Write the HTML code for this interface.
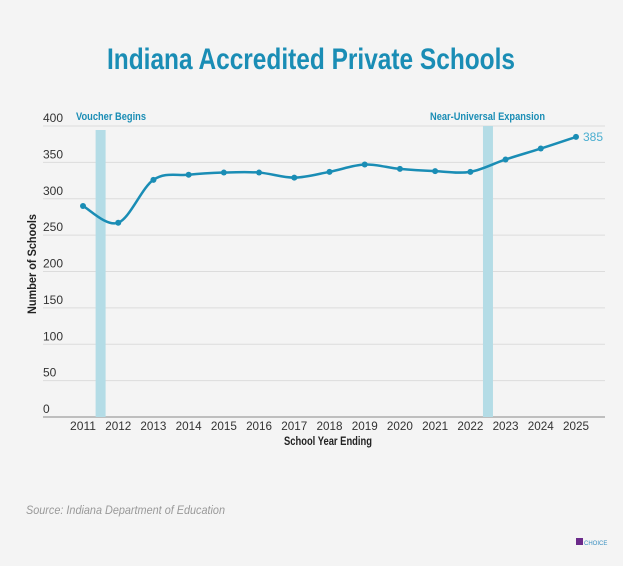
<!DOCTYPE html>
<html><head><meta charset="utf-8"><style>
body{margin:0;background:#f4f4f4;}
svg{display:block;font-family:"Liberation Sans",sans-serif;}
</style></head><body>
<svg width="623" height="566" viewBox="0 0 623 566">
<rect width="623" height="566" fill="#f4f4f4"/>
<text x="107" y="69" textLength="408" lengthAdjust="spacingAndGlyphs" font-size="30" font-weight="bold" fill="#1a8db5">Indiana Accredited Private Schools</text>
<g id="grid"></g>
<g id="bands"></g>
<g id="series"></g>
<text transform="rotate(-90)" x="-314" y="36" textLength="100" lengthAdjust="spacingAndGlyphs" font-size="12" font-weight="bold" fill="#222">Number of Schools</text>
<text x="284" y="445" textLength="88" lengthAdjust="spacingAndGlyphs" font-size="12" font-weight="bold" fill="#222">School Year Ending</text>
<text x="26" y="514" textLength="199" lengthAdjust="spacingAndGlyphs" font-size="12" font-style="italic" fill="#999">Source: Indiana Department of Education</text>
<rect x="576" y="538" width="7" height="7" fill="#6b2a8a"/>
<text x="584" y="545" font-size="6" fill="#3a8fc0">CHOICE</text>
</svg>
<script>
const years=[2011,2012,2013,2014,2015,2016,2017,2018,2019,2020,2021,2022,2023,2024,2025];
const schools=[290,267,326,333,336,336,329,337,347,341,338,337,354,369,385];
const yTicks=[0,50,100,150,200,250,300,350,400];
const events=[{year:2011.5,label:"Voucher Begins"},{year:2022.5,label:"Near-Universal Expansion"}];
const NS="http://www.w3.org/2000/svg";
const x=v=>83+(v-2011)*(576-83)/14;
const y=v=>417-v*(417-126)/400;
function mk(t,a,p){const e=document.createElementNS(NS,t);for(const k in a)e.setAttribute(k,a[k]);p.appendChild(e);return e;}
const grid=document.getElementById('grid');
yTicks.forEach(t=>{
 const l=mk('line',{x1:43,x2:605,y1:y(t),y2:y(t),stroke:t===0?'#888':'#dcdcdc','stroke-width':1},grid);
 
 
 const tx=mk('text',{x:43,y:y(t)-4,'font-size':12,fill:'#333'},grid);tx.textContent=t;
 
 
});
years.forEach(yr=>{
 const tx=mk('text',{x:x(yr),y:430,'font-size':12,fill:'#333','text-anchor':'middle',textLength:26,lengthAdjust:'spacingAndGlyphs'},grid);tx.textContent=yr;
 
 
});
const bands=document.getElementById('bands');
const lblLen=[70,115];
events.forEach((ev,i)=>{
 const r=mk('rect',{x:x(ev.year)-5,y:i===0?130:126,width:10,height:417-(i===0?130:126),fill:'#b4dce6'},bands);
 
 
 const tx=mk('text',{x:i===0?76:430,y:120,'font-size':11,'font-weight':'bold',fill:'#1a8db5',textLength:lblLen[i],lengthAdjust:'spacingAndGlyphs'},bands);tx.textContent=ev.label;
 
 
});
const g=document.getElementById('series');
const pts=years.map((yr,i)=>[x(yr),y(schools[i])]);
let d='M'+pts[0][0]+','+pts[0][1];
for(let i=0;i<pts.length-1;i++){
 const p0=pts[i-1]||pts[i],p1=pts[i],p2=pts[i+1],p3=pts[i+2]||p2;
 const c1=[p1[0]+(p2[0]-p0[0])/6,p1[1]+(p2[1]-p0[1])/6],c2=[p2[0]-(p3[0]-p1[0])/6,p2[1]-(p3[1]-p1[1])/6];
 d+=` C${c1[0]},${c1[1]} ${c2[0]},${c2[1]} ${p2[0]},${p2[1]}`;
}
const path=mk('path',{d:d,fill:'none',stroke:'#1a8db5','stroke-width':2.5},g);


pts.forEach(p=>{
 const c=mk('circle',{cx:p[0],cy:p[1],r:3,fill:'#1a8db5'},g);
 
 
});
const last=pts[pts.length-1];
const lbl=mk('text',{x:last[0]+7,y:last[1]+4,'font-size':12,fill:'#4aaed0'},g);lbl.textContent=schools[schools.length-1];


</script>
</body></html>
